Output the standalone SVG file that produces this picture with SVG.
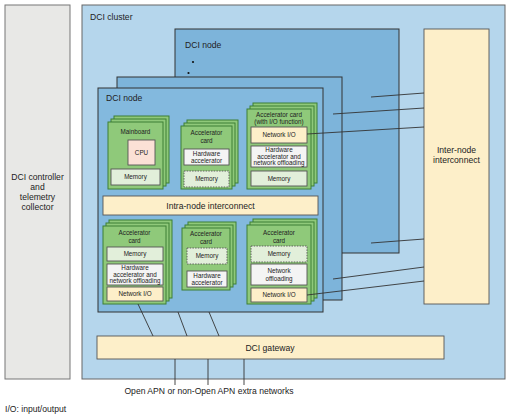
<svg xmlns="http://www.w3.org/2000/svg" width="510" height="419" viewBox="0 0 510 419">
<style>
text{font-family:"Liberation Sans",Arial,sans-serif;fill:#222;text-anchor:middle}
.lbl{font-size:8.6px}
.sm{font-size:6.3px}
.left{text-anchor:start}
.cl{fill:#b5d6ec;stroke:#666;stroke-width:1}
.nd{fill:#83b9de;stroke:#333;stroke-width:1}
.nd2{fill:#7db4da;stroke:#333;stroke-width:1}
.card{fill:#8fc97a;stroke:#3d7f35;stroke-width:1}
.y{fill:#fdefc9;stroke:#555;stroke-width:0.9}
.g{fill:#e2efda;stroke:#555;stroke-width:0.9}
.gd{fill:#e2efda;stroke:#555;stroke-width:0.9;stroke-dasharray:1.5 1.2}
.w{fill:#f4f4f4;stroke:#555;stroke-width:0.9}
.p{fill:#fbe1d6;stroke:#555;stroke-width:0.9}
.ln{stroke:#333;stroke-width:0.9;fill:none}
.dot{fill:#111}
</style>

<g id="controller">
<rect x="5" y="5" width="65" height="374" fill="#e8e8e6" stroke="#777" stroke-width="1"/>
<text class="lbl" x="37.5" y="180">DCI controller</text>
<text class="lbl" x="37.5" y="190">and</text>
<text class="lbl" x="37.5" y="200">telemetry</text>
<text class="lbl" x="37.5" y="210">collector</text>
</g>

<g id="cluster">
<rect class="cl" x="82" y="5" width="423" height="374"/>
<text class="lbl left" x="90" y="20">DCI cluster</text>
</g>

<g id="node-back">
<rect class="nd2" x="175" y="29" width="224" height="224"/>
<text class="lbl left" x="185" y="48">DCI node</text>
<circle class="dot" cx="193" cy="62" r="1.1"/>
<circle class="dot" cx="188.5" cy="73" r="1.1"/>
<circle class="dot" cx="183" cy="85" r="1.1"/>
</g>

<g id="node-middle">
<rect class="nd2" x="117" y="77" width="225" height="223"/>
</g>

<g id="node-front">
<rect class="nd" x="98" y="88" width="225" height="224"/>
<text class="lbl left" x="106" y="101">DCI node</text>
</g>

<g id="inter-node">
<rect class="y" x="424" y="29" width="65" height="275"/>
<text class="lbl" x="456.5" y="153">Inter-node</text>
<text class="lbl" x="456.5" y="163">interconnect</text>
</g>

<g id="mainboard">
<rect class="card" x="114" y="116" width="55" height="67"/>
<rect class="card" x="111" y="119" width="55" height="67"/>
<rect class="card" x="108" y="122" width="55" height="67"/>
<text class="sm" x="135.5" y="134">Mainboard</text>
<rect class="p" x="128" y="140" width="27" height="25"/>
<text class="sm" x="141.5" y="155">CPU</text>
<rect class="g" x="111" y="169" width="49" height="16"/>
<text class="sm" x="135.5" y="179">Memory</text>
</g>

<g id="accel-top">
<rect class="card" x="187" y="120" width="51" height="63"/>
<rect class="card" x="184" y="123" width="51" height="63"/>
<rect class="card" x="181" y="126" width="51" height="63"/>
<text class="sm" x="206.5" y="135">Accelerator</text>
<text class="sm" x="206.5" y="143">card</text>
<rect class="w" x="184" y="149" width="45" height="16"/>
<text class="sm" x="206.5" y="156">Hardware</text>
<text class="sm" x="206.5" y="163">accelerator</text>
<rect class="gd" x="184" y="171" width="45" height="16"/>
<text class="sm" x="206.5" y="181">Memory</text>
</g>

<g id="accel-io-top">
<rect class="card" x="253" y="103" width="64" height="80"/>
<rect class="card" x="250" y="106" width="64" height="80"/>
<rect class="card" x="247" y="109" width="64" height="80"/>
<text class="sm" x="279" y="117">Accelerator card</text>
<text class="sm" x="279" y="124">(with I/O function)</text>
<rect class="y" x="251" y="127" width="56" height="16"/>
<text class="sm" x="279" y="137">Network I/O</text>
<rect class="w" x="251" y="146" width="56" height="21"/>
<text class="sm" x="279" y="152">Hardware</text>
<text class="sm" x="279" y="158.5">accelerator and</text>
<text class="sm" x="279" y="165">network offloading</text>
<rect class="g" x="251" y="171" width="56" height="15"/>
<text class="sm" x="279" y="180.5">Memory</text>
</g>

<g id="intra-node">
<rect class="y" x="103" y="196" width="215" height="19"/>
<text class="lbl" x="210.5" y="208.5">Intra-node interconnect</text>
</g>

<g id="accel-bottom-left">
<rect class="card" x="109" y="220" width="63" height="78"/>
<rect class="card" x="106" y="223" width="63" height="78"/>
<rect class="card" x="103" y="226" width="63" height="78"/>
<text class="sm" x="134.5" y="235">Accelerator</text>
<text class="sm" x="134.5" y="243">card</text>
<rect class="g" x="107" y="247" width="56" height="14"/>
<text class="sm" x="135" y="256">Memory</text>
<rect class="w" x="107" y="264" width="56" height="21"/>
<text class="sm" x="135" y="270">Hardware</text>
<text class="sm" x="135" y="276.5">accelerator and</text>
<text class="sm" x="135" y="283">network offloading</text>
<rect class="y" x="107" y="287" width="56" height="14"/>
<text class="sm" x="135" y="296">Network I/O</text>
</g>

<g id="accel-bottom-middle">
<rect class="card" x="188" y="222" width="48" height="62"/>
<rect class="card" x="185" y="225" width="48" height="62"/>
<rect class="card" x="182" y="228" width="48" height="62"/>
<text class="sm" x="206" y="236">Accelerator</text>
<text class="sm" x="206" y="244">card</text>
<rect class="gd" x="187" y="248" width="40" height="16"/>
<text class="sm" x="207" y="258">Memory</text>
<rect class="w" x="187" y="271" width="40" height="16"/>
<text class="sm" x="207" y="278">Hardware</text>
<text class="sm" x="207" y="285">accelerator</text>
</g>

<g id="accel-bottom-right">
<rect class="card" x="253" y="219" width="64" height="79"/>
<rect class="card" x="250" y="222" width="64" height="79"/>
<rect class="card" x="247" y="225" width="64" height="79"/>
<text class="sm" x="279" y="235">Accelerator</text>
<text class="sm" x="279" y="243">card</text>
<rect class="gd" x="251" y="246" width="56" height="16"/>
<text class="sm" x="279" y="256">Memory</text>
<rect class="w" x="251" y="264" width="56" height="21"/>
<text class="sm" x="279" y="273">Network</text>
<text class="sm" x="279" y="281">offloading</text>
<rect class="y" x="251" y="288" width="56" height="14"/>
<text class="sm" x="279" y="297">Network I/O</text>
</g>

<g id="gateway">
<rect class="y" x="97" y="336" width="347" height="23"/>
<text class="lbl" x="270" y="351">DCI gateway</text>
</g>

<g id="connectors">
<line class="ln" x1="424" y1="93" x2="371" y2="97"/>
<line class="ln" x1="424" y1="108" x2="333" y2="114"/>
<line class="ln" x1="424" y1="127" x2="307" y2="134"/>
<line class="ln" x1="424" y1="239" x2="371" y2="243"/>
<line class="ln" x1="424" y1="267" x2="333" y2="279"/>
<line class="ln" x1="424" y1="281" x2="307" y2="295"/>
<line class="ln" x1="138" y1="304" x2="153" y2="336"/>
<line class="ln" x1="178" y1="312" x2="187" y2="336"/>
<line class="ln" x1="209" y1="312" x2="219" y2="336"/>
<line class="ln" x1="175" y1="359" x2="175" y2="385"/>
<line class="ln" x1="208" y1="359" x2="208" y2="385"/>
<line class="ln" x1="244" y1="359" x2="244" y2="385"/>
</g>

<g id="footer">
<text class="lbl" x="209" y="393.5">Open APN or non-Open APN extra networks</text>
<text class="lbl left" x="5" y="412">I/O: input/output</text>
</g>
</svg>
